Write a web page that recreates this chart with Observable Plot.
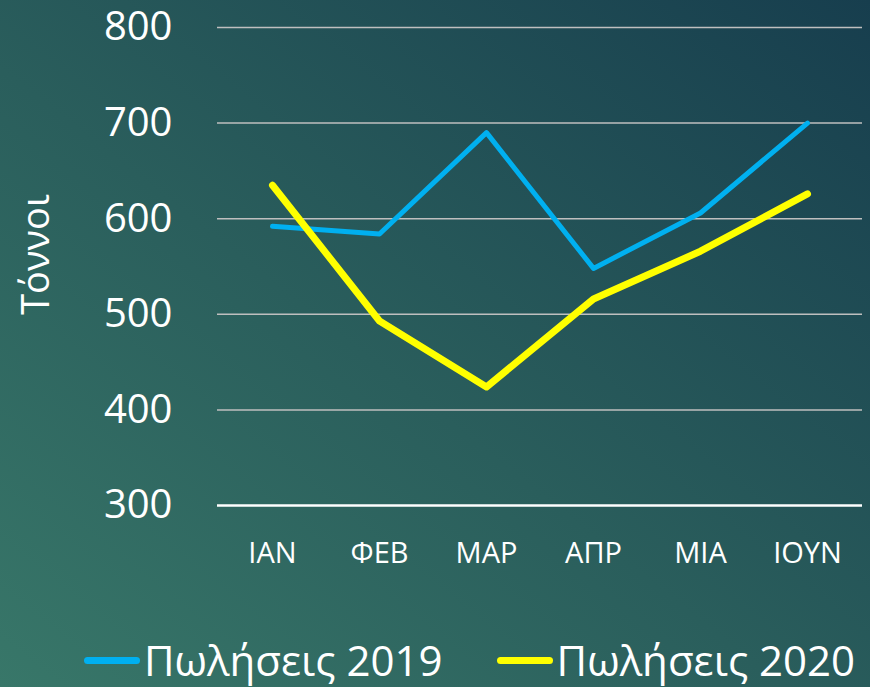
<!DOCTYPE html>
<html>
<head>
<meta charset="utf-8">
<script src="https://cdn.jsdelivr.net/npm/d3@7"></script>
<script src="https://cdn.jsdelivr.net/npm/@observablehq/plot@0.6"></script>
<style>
  html, body { margin: 0; padding: 0; }
  body { width: 870px; height: 687px; overflow: hidden;
    background: linear-gradient(to top right, #387769 0%, #2a5e5c 45%, #173e4e 100%);
    font-family: "Open Sans", sans-serif; }
  #chart { position: relative; width: 870px; height: 687px; }
  #legend { position: absolute; left: 84px; top: 635px; display: flex; align-items: center; color: #fff; font-size: 42px; line-height: 50px; }
  .item { display: flex; align-items: center; }
  .sw { width: 56px; height: 7px; border-radius: 4px; margin-right: 4px; }
</style>
</head>
<body>
<div id="chart"></div>
<script>
const months = ["ΙΑΝ", "ΦΕΒ", "ΜΑΡ", "ΑΠΡ", "ΜΙΑ", "ΙΟΥΝ"];
const sales2019 = [592, 584, 690, 548, 606, 700];
const sales2020 = [635, 493, 424, 516, 566, 626];
const seriesNames = ["Πωλήσεις 2019", "Πωλήσεις 2020"];
const seriesColors = ["#00b0f0", "#ffff00"];
const yTicks = [300, 400, 500, 600, 700, 800];
const yLabel = "Τόννοι";

const d2019 = months.map((m, i) => ({month: m, value: sales2019[i]}));
const d2020 = months.map((m, i) => ({month: m, value: sales2020[i]}));

const plot = Plot.plot({
  width: 870,
  height: 600,
  marginTop: 27,
  marginBottom: 95,
  marginLeft: 217,
  marginRight: 8,
  style: {background: "transparent", color: "#fff", fontFamily: "'Open Sans', sans-serif", overflow: "visible"},
  x: {type: "point", domain: months, padding: 0.5},
  y: {domain: [300, 800]},
  marks: [
    Plot.ruleY(yTicks.filter(t => t > 300), {stroke: "#bfbfbf", strokeWidth: 1.5}),
    Plot.ruleY([300], {stroke: "#ffffff", strokeWidth: 2.5}),
    Plot.axisY(yTicks, {tickSize: 0, tickPadding: 45, fontSize: 40, label: null, fill: "#fff"}),
    Plot.axisX({tickSize: 0, tickPadding: 37, fontSize: 29, label: null, fill: "#fff"}),
    Plot.text([yLabel], {frameAnchor: "left", textAnchor: "middle", dx: -181, dy: -12, rotate: -90, fontSize: 38, fill: "#fff"}),
    Plot.line(d2019, {x: "month", y: "value", stroke: seriesColors[0], strokeWidth: 5, strokeLinecap: "round", strokeLinejoin: "round"}),
    Plot.line(d2020, {x: "month", y: "value", stroke: seriesColors[1], strokeWidth: 7, strokeLinecap: "round", strokeLinejoin: "round"})
  ]
});
document.getElementById("chart").appendChild(plot);

const legend = document.createElement("div");
legend.id = "legend";
seriesNames.forEach((name, i) => {
  const item = document.createElement("div");
  item.className = "item";
  if (i > 0) item.style.marginLeft = "54px";
  const sw = document.createElement("span");
  sw.className = "sw";
  sw.style.background = seriesColors[i];
  const t = document.createElement("span");
  t.textContent = name;
  item.appendChild(sw);
  item.appendChild(t);
  legend.appendChild(item);
});
document.getElementById("chart").appendChild(legend);
</script>
</body>
</html>
